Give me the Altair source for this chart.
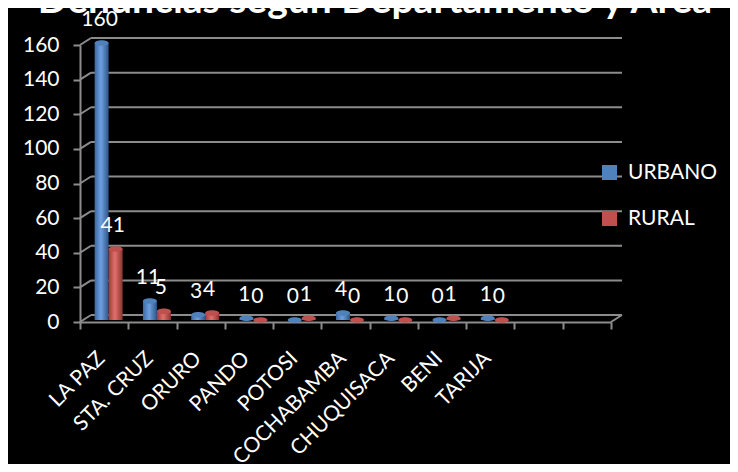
import altair as alt
import pandas as pd

TITLE = "Denuncias según Departamento y Área"
categories = ["LA PAZ", "STA. CRUZ", "ORURO", "PANDO", "POTOSI",
              "COCHABAMBA", "CHUQUISACA", "BENI", "TARIJA"]
slots = categories + [" ", "  "]
series = ["URBANO", "RURAL"]
urbano = [160, 11, 3, 1, 0, 4, 1, 0, 1]
rural = [41, 5, 4, 0, 1, 0, 0, 1, 0]
y_ticks = [0, 20, 40, 60, 80, 100, 120, 140, 160]
colors = ["#4F81BD", "#C0504D"]

rows = []
for c, u, r in zip(categories, urbano, rural):
    rows.append({"dep": c, "serie": "URBANO", "valor": u})
    rows.append({"dep": c, "serie": "RURAL", "valor": r})
df = pd.DataFrame(rows)
grid_df = pd.DataFrame({"valor": y_ticks})
title_df = pd.DataFrame({"t": [TITLE]})

W, H = 531, 277
DX, DY = 11, -7
GRAY = "#8c8c8c"

xenc = alt.X("dep:N", scale=alt.Scale(domain=slots, paddingInner=0, paddingOuter=0),
             sort=slots,
             axis=alt.Axis(title=None, labelAngle=-45, labelAlign="right",
                           labelBaseline="middle", labelPadding=26, labelOffset=-3,
                           labelFontSize=21, tickBand="extent"))
yscale = alt.Scale(domain=[0, 160], nice=False)
yaxis = alt.Axis(title=None, values=y_ticks, labelFontSize=21, labelPadding=14)
yenc = alt.Y("valor:Q", scale=yscale, axis=yaxis)

color_scale = alt.Scale(domain=series, range=colors)

back = alt.Chart(grid_df).mark_rule(color=GRAY, strokeWidth=2, yOffset=DY).encode(
    x=alt.value(DX), x2=alt.value(W + DX), y=yenc)
conn = alt.Chart(grid_df).mark_rule(color=GRAY, strokeWidth=2, y2Offset=DY).encode(
    x=alt.value(0), x2=alt.value(DX), y=yenc, y2="valor:Q")
conn_r = alt.Chart(grid_df).transform_filter("datum.valor == 0").mark_rule(
    color=GRAY, strokeWidth=2, y2Offset=DY).encode(
    x=alt.value(W), x2=alt.value(W + DX), y=yenc, y2="valor:Q")


def grad(c0, c1, c2):
    return alt.Gradient(gradient="linear", x1=0, x2=1, y1=0, y2=0,
                        stops=[alt.GradientStop(offset=0, color=c0),
                               alt.GradientStop(offset=0.45, color=c1),
                               alt.GradientStop(offset=1, color=c2)])


offs = {"URBANO": -2.5, "RURAL": 11.5}
grads = {"URBANO": grad("#3b69a3", "#6f9fe0", "#2d5587"),
         "RURAL": grad("#9c3b38", "#e2706c", "#8a3330")}
ELL = "M-1,0A1,0.4,0,1,1,1,0A1,0.4,0,1,1,-1,0Z"

layers = [back, conn, conn_r]
for s in series:
    base = alt.Chart(df).transform_filter(alt.datum.serie == s)
    bars = base.mark_bar(width=14, xOffset=offs[s], yOffset=-2, y2Offset=-2,
                         color=grads[s]).encode(x=xenc, y=yenc)
    caps = base.mark_point(shape=ELL, filled=True, size=196, opacity=1,
                           xOffset=offs[s], yOffset=-2).encode(
        x=xenc, y=yenc,
        color=alt.Color("serie:N", scale=color_scale, title=None,
                        legend=alt.Legend(orient="none", legendX=519, legendY=117,
                                          symbolType="square", symbolSize=225,
                                          symbolStrokeWidth=0, labelFontSize=21,
                                          labelColor="white", labelOffset=8,
                                          rowPadding=24, padding=0)))
    lx = offs[s] - (2 if s == "URBANO" else 3)
    labels = base.mark_text(
        fontSize=21, color="white", baseline="alphabetic",
        xOffset=lx, dy=-19, font="Lato").encode(x=xenc, y=yenc, text="valor:Q")
    layers += [bars, caps, labels]

title = alt.Chart(title_df).mark_text(fontSize=39, fontWeight="bold", color="white",
                                      font="Lato", baseline="alphabetic").encode(
    x=alt.value(295), y=alt.value(-32), text="t:N")
layers.append(title)

chart = alt.layer(*layers).properties(
    width=W, height=H, background="black",
    autosize=alt.AutoSizeParams(type="none"),
    padding={"left": 72, "top": 37, "right": 119, "bottom": 142},
).configure_view(stroke=None).configure_axis(
    domainColor=GRAY, domainWidth=2, tickColor=GRAY, tickWidth=2, tickSize=7,
    labelColor="white", labelFont="Lato", grid=False
).configure_legend(labelFont="Lato")

chart.save("out.html", embed_options={"renderer": "svg", "actions": False})
